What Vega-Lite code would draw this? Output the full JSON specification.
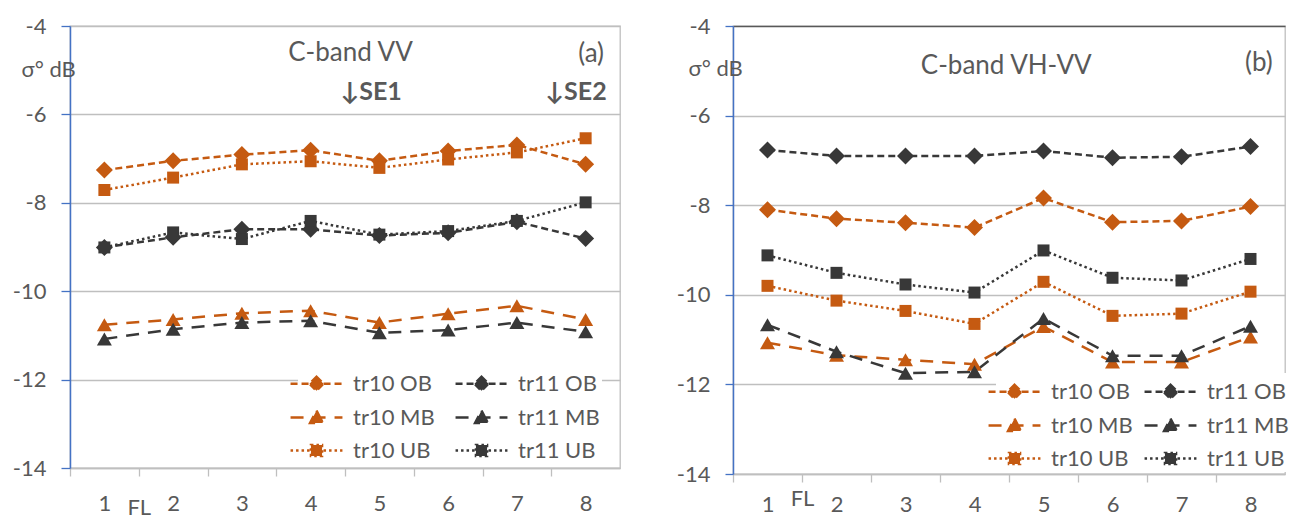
{
"$schema":"https://vega.github.io/schema/vega-lite/v6.json",
"padding":{"left":11,"top":14,"right":5,"bottom":5},
"background":"white",
"spacing":54,
"config":{
  "font":"Lato",
  "view":{"stroke":"#bfbfbf","strokeWidth":1.3},
  "axis":{"labelFont":"Lato","labelColor":"#595959","labelFontSize":22,"titleFont":"Lato","titleColor":"#595959","labelOverlap":false},
  "legend":{"labelFont":"Lato"},
  "text":{"font":"Lato"}
},
"resolve":{"scale":{"stroke":"independent","fill":"independent","strokeDash":"independent","shape":"independent"},"legend":{"stroke":"independent","fill":"independent","strokeDash":"independent","shape":"independent"}},
"datasets":{
"va":[
{"x":1,"series":"tr10 OB","v":-7.26},{"x":2,"series":"tr10 OB","v":-7.05},{"x":3,"series":"tr10 OB","v":-6.91},{"x":4,"series":"tr10 OB","v":-6.81},{"x":5,"series":"tr10 OB","v":-7.05},{"x":6,"series":"tr10 OB","v":-6.83},{"x":7,"series":"tr10 OB","v":-6.69},{"x":8,"series":"tr10 OB","v":-7.13},
{"x":1,"series":"tr11 OB","v":-9.01},{"x":2,"series":"tr11 OB","v":-8.78},{"x":3,"series":"tr11 OB","v":-8.6},{"x":4,"series":"tr11 OB","v":-8.6},{"x":5,"series":"tr11 OB","v":-8.74},{"x":6,"series":"tr11 OB","v":-8.68},{"x":7,"series":"tr11 OB","v":-8.43},{"x":8,"series":"tr11 OB","v":-8.81},
{"x":1,"series":"tr10 MB","v":-10.76},{"x":2,"series":"tr10 MB","v":-10.64},{"x":3,"series":"tr10 MB","v":-10.5},{"x":4,"series":"tr10 MB","v":-10.44},{"x":5,"series":"tr10 MB","v":-10.71},{"x":6,"series":"tr10 MB","v":-10.51},{"x":7,"series":"tr10 MB","v":-10.33},{"x":8,"series":"tr10 MB","v":-10.64},
{"x":1,"series":"tr11 MB","v":-11.08},{"x":2,"series":"tr11 MB","v":-10.86},{"x":3,"series":"tr11 MB","v":-10.71},{"x":4,"series":"tr11 MB","v":-10.67},{"x":5,"series":"tr11 MB","v":-10.94},{"x":6,"series":"tr11 MB","v":-10.88},{"x":7,"series":"tr11 MB","v":-10.71},{"x":8,"series":"tr11 MB","v":-10.92},
{"x":1,"series":"tr10 UB","v":-7.71},{"x":2,"series":"tr10 UB","v":-7.43},{"x":3,"series":"tr10 UB","v":-7.13},{"x":4,"series":"tr10 UB","v":-7.06},{"x":5,"series":"tr10 UB","v":-7.21},{"x":6,"series":"tr10 UB","v":-7.02},{"x":7,"series":"tr10 UB","v":-6.86},{"x":8,"series":"tr10 UB","v":-6.54},
{"x":1,"series":"tr11 UB","v":-9.01},{"x":2,"series":"tr11 UB","v":-8.67},{"x":3,"series":"tr11 UB","v":-8.82},{"x":4,"series":"tr11 UB","v":-8.41},{"x":5,"series":"tr11 UB","v":-8.72},{"x":6,"series":"tr11 UB","v":-8.64},{"x":7,"series":"tr11 UB","v":-8.41},{"x":8,"series":"tr11 UB","v":-7.99}
],
"vb":[
{"x":1,"series":"tr10 OB","v":-8.1},{"x":2,"series":"tr10 OB","v":-8.3},{"x":3,"series":"tr10 OB","v":-8.39},{"x":4,"series":"tr10 OB","v":-8.5},{"x":5,"series":"tr10 OB","v":-7.84},{"x":6,"series":"tr10 OB","v":-8.38},{"x":7,"series":"tr10 OB","v":-8.35},{"x":8,"series":"tr10 OB","v":-8.03},
{"x":1,"series":"tr11 OB","v":-6.77},{"x":2,"series":"tr11 OB","v":-6.9},{"x":3,"series":"tr11 OB","v":-6.9},{"x":4,"series":"tr11 OB","v":-6.9},{"x":5,"series":"tr11 OB","v":-6.79},{"x":6,"series":"tr11 OB","v":-6.94},{"x":7,"series":"tr11 OB","v":-6.92},{"x":8,"series":"tr11 OB","v":-6.69},
{"x":1,"series":"tr10 MB","v":-11.07},{"x":2,"series":"tr10 MB","v":-11.35},{"x":3,"series":"tr10 MB","v":-11.45},{"x":4,"series":"tr10 MB","v":-11.55},{"x":5,"series":"tr10 MB","v":-10.71},{"x":6,"series":"tr10 MB","v":-11.5},{"x":7,"series":"tr10 MB","v":-11.5},{"x":8,"series":"tr10 MB","v":-10.94},
{"x":1,"series":"tr11 MB","v":-10.67},{"x":2,"series":"tr11 MB","v":-11.27},{"x":3,"series":"tr11 MB","v":-11.75},{"x":4,"series":"tr11 MB","v":-11.72},{"x":5,"series":"tr11 MB","v":-10.53},{"x":6,"series":"tr11 MB","v":-11.36},{"x":7,"series":"tr11 MB","v":-11.36},{"x":8,"series":"tr11 MB","v":-10.7},
{"x":1,"series":"tr10 UB","v":-9.8},{"x":2,"series":"tr10 UB","v":-10.13},{"x":3,"series":"tr10 UB","v":-10.36},{"x":4,"series":"tr10 UB","v":-10.65},{"x":5,"series":"tr10 UB","v":-9.71},{"x":6,"series":"tr10 UB","v":-10.47},{"x":7,"series":"tr10 UB","v":-10.42},{"x":8,"series":"tr10 UB","v":-9.93},
{"x":1,"series":"tr11 UB","v":-9.12},{"x":2,"series":"tr11 UB","v":-9.51},{"x":3,"series":"tr11 UB","v":-9.77},{"x":4,"series":"tr11 UB","v":-9.95},{"x":5,"series":"tr11 UB","v":-9.01},{"x":6,"series":"tr11 UB","v":-9.62},{"x":7,"series":"tr11 UB","v":-9.68},{"x":8,"series":"tr11 UB","v":-9.2}
],
"annA":[
{"label":"C-band VV","x":4.58,"v":-4.6,"kind":"plain"},
{"label":"(a)","x":8.08,"v":-4.64,"kind":"plain"},
{"label":"↓SE1","x":4.88,"v":-5.5,"kind":"bold"},
{"label":"↓SE2","x":7.86,"v":-5.5,"kind":"bold"}
],
"annB":[
{"label":"C-band VH-VV","x":4.46,"v":-4.9,"kind":"plain"},
{"label":"(b)","x":8.12,"v":-4.82,"kind":"plain"}
]
},
"hconcat":[
{
 "width":550,"height":442,
 "encoding":{
  "x":{"field":"x","type":"quantitative","scale":{"domain":[0.5,8.5],"nice":false,"zero":false},
   "axis":{"values":[1,2,3,4,5,6,7,8],"format":"d","labelOverlap":false,"labelFlush":false,"grid":false,"domainColor":"#bfbfbf","domainWidth":1.3,"tickColor":"#bfbfbf","tickWidth":1.3,"tickSize":8,"tickOffset":-34.375,"labelOffset":34.375,"labelPadding":17,"title":"FL","titleX":68.75,"titleY":39,"titleAlign":"center","titleBaseline":"middle","titleFontWeight":"normal","titleFontSize":22,"titleColor":"#595959"}},
  "y":{"field":"v","type":"quantitative","scale":{"domain":[-14,-4],"nice":false,"zero":false},
   "axis":{"values":[-14,-12,-10,-8,-6,-4],"labelExpr":"'' + datum.value","grid":true,"gridColor":"#bfbfbf","gridWidth":1.3,"domainColor":"#4472c4","domainWidth":1.5,"tickColor":"#4472c4","tickWidth":1.3,"tickSize":9,"labelPadding":15,"title":"σ° dB","titleAngle":0,"titleX":-49,"titleY":43,"titleAlign":"left","titleBaseline":"middle","titleFontWeight":"normal","titleFontSize":22}}
 },
 "layer":[
  {"data":{"name":"va"},"mark":{"type":"line","strokeWidth":2.5},
   "encoding":{
    "stroke":{"field":"series","type":"nominal","scale":{"domain":["tr10 OB","tr10 MB","tr10 UB","tr11 OB","tr11 MB","tr11 UB"],"range":["#c55a11","#c55a11","#c55a11","#383838","#383838","#383838"]}},
    "strokeDash":{"field":"series","type":"nominal","scale":{"domain":["tr10 OB","tr10 MB","tr10 UB","tr11 OB","tr11 MB","tr11 UB"],"range":[[7,4],[13,9],[2.5,3],[7,4],[13,9],[2.5,3]]}}}},
  {"data":{"name":"va"},"transform":[{"filter":"indexof(datum.series,'OB') >= 0"}],"mark":{"type":"point","filled":true,"opacity":1,"shape":"diamond","size":289},
   "encoding":{"fill":{"field":"series","type":"nominal","scale":{"domain":["tr10 OB","tr10 MB","tr10 UB","tr11 OB","tr11 MB","tr11 UB"],"range":["#c55a11","#c55a11","#c55a11","#383838","#383838","#383838"]}}}},
  {"data":{"name":"va"},"transform":[{"filter":"indexof(datum.series,'MB') >= 0"}],"mark":{"type":"point","filled":true,"opacity":1,"shape":"triangle-up","size":225},
   "encoding":{"fill":{"field":"series","type":"nominal"}}},
  {"data":{"name":"va"},"transform":[{"filter":"indexof(datum.series,'UB') >= 0"}],"mark":{"type":"point","filled":true,"opacity":1,"shape":"square","size":144},
   "encoding":{"fill":{"field":"series","type":"nominal"}}},
  {"data":{"name":"va"},"mark":{"type":"point","filled":true,"opacity":0},
   "encoding":{
    "stroke":{"field":"series","type":"nominal","legend":{"orient":"none","legendX":228,"legendY":339,"columns":2,"title":null,"padding":2,"fillColor":"white","symbolSize":900,"symbolStrokeWidth":2.5,"symbolOpacity":1,"labelFontSize":22,"labelColor":"#595959","labelOffset":20,"columnPadding":15,"rowPadding":5}},
    "fill":{"field":"series","type":"nominal","legend":{"orient":"none","legendX":228,"legendY":339,"columns":2,"title":null,"padding":2,"fillColor":"white","symbolSize":900,"symbolStrokeWidth":2.5,"symbolOpacity":1,"labelFontSize":22,"labelColor":"#595959","labelOffset":20,"columnPadding":15,"rowPadding":5}},
    "strokeDash":{"field":"series","type":"nominal","legend":{"orient":"none","legendX":228,"legendY":339,"columns":2,"title":null,"padding":2,"fillColor":"white","symbolSize":900,"symbolStrokeWidth":2.5,"symbolOpacity":1,"labelFontSize":22,"labelColor":"#595959","labelOffset":20,"columnPadding":15,"rowPadding":5}},
    "shape":{"field":"series","type":"nominal","scale":{"domain":["tr10 OB","tr10 MB","tr10 UB","tr11 OB","tr11 MB","tr11 UB"],"range":["M-1.73,0H1.73M0,-0.47L0.47,0L0,0.47L-0.47,0Z","M-1.73,0H1.73M0,-0.47L0.43,0.37L-0.43,0.37Z","M-1.73,0H1.73M-0.37,-0.37H0.37V0.37H-0.37Z","M-1.73,0H1.73M0,-0.47L0.47,0L0,0.47L-0.47,0Z","M-1.73,0H1.73M0,-0.47L0.43,0.37L-0.43,0.37Z","M-1.73,0H1.73M-0.37,-0.37H0.37V0.37H-0.37Z"]},"legend":{"orient":"none","legendX":228,"legendY":339,"columns":2,"title":null,"padding":2,"fillColor":"white","symbolSize":900,"symbolStrokeWidth":2.5,"symbolOpacity":1,"labelFontSize":22,"labelColor":"#595959","labelOffset":20,"columnPadding":15,"rowPadding":5}}}},
  {"data":{"name":"annA"},"transform":[{"filter":"datum.kind == 'plain'"}],"mark":{"type":"text","fontSize":26,"fill":"#595959","align":"center","baseline":"middle"},
   "encoding":{"text":{"field":"label"}}},
  {"data":{"name":"annA"},"transform":[{"filter":"datum.kind == 'bold'"}],"mark":{"type":"text","fontSize":25,"fontWeight":"bold","fill":"#595959","align":"center","baseline":"middle"},
   "encoding":{"text":{"field":"label"}}}
 ]
},
{
 "width":552,"height":448,
 "encoding":{
  "x":{"field":"x","type":"quantitative","scale":{"domain":[0.5,8.5],"nice":false,"zero":false},
   "axis":{"values":[1,2,3,4,5,6,7,8],"format":"d","labelOverlap":false,"labelFlush":false,"grid":false,"domainColor":"#bfbfbf","domainWidth":1.3,"tickColor":"#bfbfbf","tickWidth":1.3,"tickSize":8,"tickOffset":-34.5,"labelOffset":34.5,"labelPadding":12,"title":"FL","titleX":69,"titleY":24,"titleAlign":"center","titleBaseline":"middle","titleFontWeight":"normal","titleFontSize":22,"titleColor":"#595959"}},
  "y":{"field":"v","type":"quantitative","scale":{"domain":[-14,-4],"nice":false,"zero":false},
   "axis":{"values":[-14,-12,-10,-8,-6,-4],"labelExpr":"'' + datum.value","grid":true,"gridColor":{"condition":{"test":"datum.value == -4","value":"#595959"},"value":"#bfbfbf"},"gridWidth":1.3,"domainColor":"#4472c4","domainWidth":1.5,"tickColor":"#4472c4","tickWidth":1.3,"tickSize":8,"labelPadding":15,"title":"σ° dB","titleAngle":0,"titleX":-45,"titleY":42,"titleAlign":"left","titleBaseline":"middle","titleFontWeight":"normal","titleFontSize":22}}
 },
 "layer":[
  {"data":{"name":"vb"},"mark":{"type":"line","strokeWidth":2.5},
   "encoding":{
    "stroke":{"field":"series","type":"nominal","scale":{"domain":["tr10 OB","tr10 MB","tr10 UB","tr11 OB","tr11 MB","tr11 UB"],"range":["#c55a11","#c55a11","#c55a11","#383838","#383838","#383838"]}},
    "strokeDash":{"field":"series","type":"nominal","scale":{"domain":["tr10 OB","tr10 MB","tr10 UB","tr11 OB","tr11 MB","tr11 UB"],"range":[[7,4],[13,9],[2.5,3],[7,4],[13,9],[2.5,3]]}}}},
  {"data":{"name":"vb"},"transform":[{"filter":"indexof(datum.series,'OB') >= 0"}],"mark":{"type":"point","filled":true,"opacity":1,"shape":"diamond","size":289},
   "encoding":{"fill":{"field":"series","type":"nominal","scale":{"domain":["tr10 OB","tr10 MB","tr10 UB","tr11 OB","tr11 MB","tr11 UB"],"range":["#c55a11","#c55a11","#c55a11","#383838","#383838","#383838"]}}}},
  {"data":{"name":"vb"},"transform":[{"filter":"indexof(datum.series,'MB') >= 0"}],"mark":{"type":"point","filled":true,"opacity":1,"shape":"triangle-up","size":225},
   "encoding":{"fill":{"field":"series","type":"nominal"}}},
  {"data":{"name":"vb"},"transform":[{"filter":"indexof(datum.series,'UB') >= 0"}],"mark":{"type":"point","filled":true,"opacity":1,"shape":"square","size":144},
   "encoding":{"fill":{"field":"series","type":"nominal"}}},
  {"data":{"name":"vb"},"mark":{"type":"point","filled":true,"opacity":0},
   "encoding":{
    "stroke":{"field":"series","type":"nominal","legend":{"orient":"none","legendX":263,"legendY":347,"columns":2,"title":null,"padding":2,"fillColor":"white","symbolSize":900,"symbolStrokeWidth":2.5,"symbolOpacity":1,"labelFontSize":22,"labelColor":"#595959","labelOffset":20,"columnPadding":6,"rowPadding":5}},
    "fill":{"field":"series","type":"nominal","legend":{"orient":"none","legendX":263,"legendY":347,"columns":2,"title":null,"padding":2,"fillColor":"white","symbolSize":900,"symbolStrokeWidth":2.5,"symbolOpacity":1,"labelFontSize":22,"labelColor":"#595959","labelOffset":20,"columnPadding":6,"rowPadding":5}},
    "strokeDash":{"field":"series","type":"nominal","legend":{"orient":"none","legendX":263,"legendY":347,"columns":2,"title":null,"padding":2,"fillColor":"white","symbolSize":900,"symbolStrokeWidth":2.5,"symbolOpacity":1,"labelFontSize":22,"labelColor":"#595959","labelOffset":20,"columnPadding":6,"rowPadding":5}},
    "shape":{"field":"series","type":"nominal","scale":{"domain":["tr10 OB","tr10 MB","tr10 UB","tr11 OB","tr11 MB","tr11 UB"],"range":["M-1.73,0H1.73M0,-0.47L0.47,0L0,0.47L-0.47,0Z","M-1.73,0H1.73M0,-0.47L0.43,0.37L-0.43,0.37Z","M-1.73,0H1.73M-0.37,-0.37H0.37V0.37H-0.37Z","M-1.73,0H1.73M0,-0.47L0.47,0L0,0.47L-0.47,0Z","M-1.73,0H1.73M0,-0.47L0.43,0.37L-0.43,0.37Z","M-1.73,0H1.73M-0.37,-0.37H0.37V0.37H-0.37Z"]},"legend":{"orient":"none","legendX":263,"legendY":347,"columns":2,"title":null,"padding":2,"fillColor":"white","symbolSize":900,"symbolStrokeWidth":2.5,"symbolOpacity":1,"labelFontSize":22,"labelColor":"#595959","labelOffset":20,"columnPadding":6,"rowPadding":5}}}},
  {"data":{"name":"annB"},"mark":{"type":"text","fontSize":26,"fill":"#595959","align":"center","baseline":"middle"},
   "encoding":{"text":{"field":"label"}}}
 ]
}
]
}
